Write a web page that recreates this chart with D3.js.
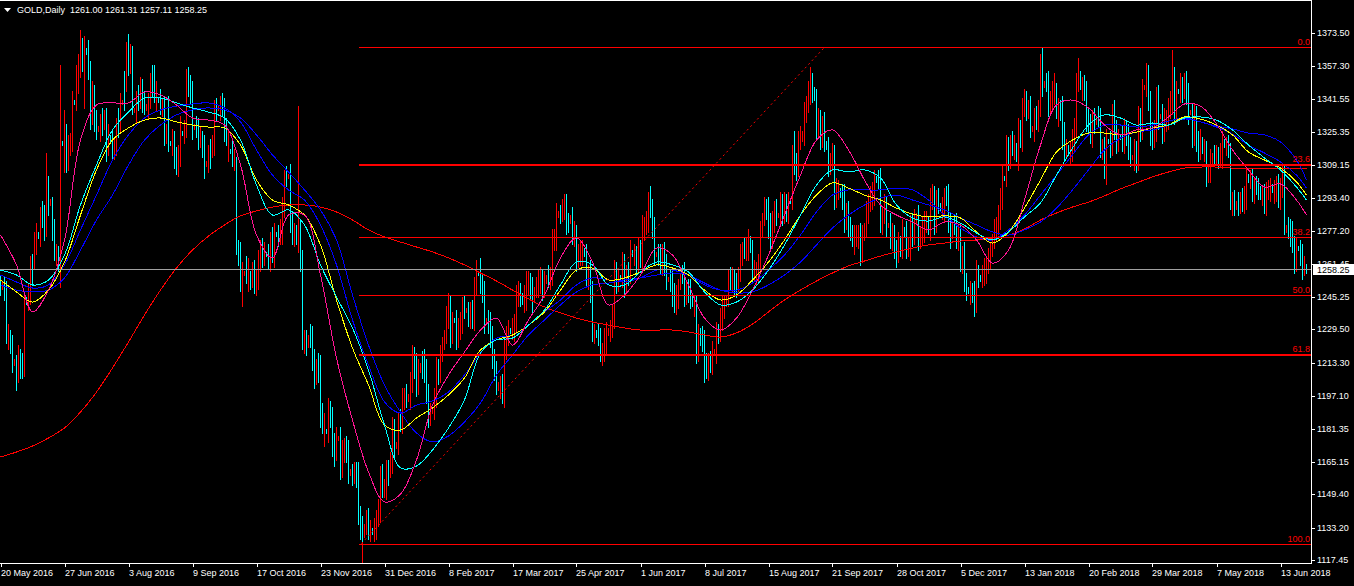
<!DOCTYPE html>
<html><head><meta charset="utf-8">
<script src="https://cdn.jsdelivr.net/npm/d3@7"></script>
<style>
html,body{margin:0;padding:0;background:#000;overflow:hidden;}
svg{display:block;}
text{font-family:"Liberation Sans",Arial,sans-serif;font-size:9px;}
</style></head><body>
<svg id="c" width="1354" height="586"></svg>
<script>
const symbolTitle = "GOLD,Daily  1261.00 1261.31 1257.11 1258.25";
const lastPrice = 1258.25;
const closes = [
1252,1250,1250,1228,1224,1221,1214,1213,1208,1215,1212,1210,1243,1244,1246,1257,1262,1270,1275,1276,1284,1285,1279,1298,1292,1291,1278,1267,1264,1263,1320,1320,
1324,1312,1318,1321,1340,1340,1350,1357,1366,1362,1365,1364,1356,1333,1343,1332,1327,1327,1328,1332,1332,1318,1323,1322,1317,1318,1326,1332,1340,1340,1350,1367,
1358,1363,1336,1336,1340,1342,1347,1340,1338,1337,1340,1348,1353,1346,1341,1341,1338,1338,1325,1325,1320,1320,1322,1313,1309,1313,1325,1325,1327,1351,1348,1345,
1328,1328,1328,1323,1322,1318,1310,1310,1314,1318,1318,1336,1337,1337,1339,1338,1327,1323,1316,1316,1313,1312,1268,1266,1254,1257,1257,1259,1254,1254,1257,1252,
1254,1262,1269,1266,1266,1266,1263,1273,1266,1276,1276,1275,1277,1289,1303,1304,1304,1282,1277,1275,1275,1273,1266,1225,1224,1222,1226,1226,1216,1208,1210,1212,
1188,1184,1180,1180,1190,1188,1173,1170,1177,1177,1163,1170,1173,1171,1161,1160,1159,1160,1158,1140,1134,1130,1134,1138,1133,1132,1131,1133,1138,1141,1158,1152,
1152,1160,1162,1165,1181,1173,1174,1184,1185,1196,1197,1196,1197,1204,1216,1212,1202,1210,1212,1215,1209,1198,1188,1190,1191,1196,1210,1209,1218,1221,1228,1235,
1241,1227,1234,1234,1226,1229,1233,1241,1239,1239,1236,1238,1234,1250,1257,1257,1252,1249,1233,1234,1234,1226,1216,1209,1203,1201,1203,1198,1220,1226,1229,1229,
1230,1233,1245,1248,1246,1243,1245,1250,1253,1249,1244,1249,1250,1253,1255,1249,1253,1255,1255,1255,1273,1274,1285,1286,1286,1288,1290,1282,1282,1284,1275,1276,
1264,1266,1267,1268,1266,1255,1257,1248,1228,1228,1227,1226,1217,1218,1224,1228,1229,1230,1236,1258,1252,1254,1255,1261,1251,1257,1256,1267,1266,1266,1262,1268,
1264,1279,1280,1282,1293,1288,1280,1266,1266,1265,1262,1267,1260,1254,1254,1254,1246,1242,1246,1250,1256,1256,1246,1249,1249,1245,1242,1241,1219,1226,1226,1224,
1212,1211,1214,1213,1218,1219,1228,1228,1234,1241,1242,1245,1254,1254,1255,1251,1249,1259,1266,1268,1268,1269,1274,1268,1257,1257,1258,1261,1276,1285,1289,1289,
1280,1273,1283,1287,1285,1285,1291,1286,1290,1286,1292,1292,1313,1310,1308,1322,1322,1325,1335,1339,1344,1349,1346,1342,1327,1331,1323,1329,1320,1318,1310,1311,
1315,1294,1297,1297,1295,1294,1282,1287,1280,1279,1271,1274,1275,1276,1266,1274,1280,1287,1291,1293,1296,1303,1302,1302,1282,1285,1290,1280,1280,1274,1276,1268,
1266,1271,1270,1278,1276,1269,1269,1281,1275,1282,1285,1274,1275,1278,1282,1283,1277,1293,1294,1282,1293,1290,1288,1288,1294,1294,1282,1275,1280,1280,1274,1275,
1263,1266,1252,1249,1248,1248,1248,1242,1257,1255,1254,1256,1258,1261,1264,1266,1275,1278,1280,1284,1293,1303,1303,1318,1313,1320,1318,1319,1312,1326,1322,1338,
1340,1337,1337,1327,1327,1332,1332,1337,1358,1348,1349,1349,1339,1341,1345,1348,1333,1337,1337,1325,1317,1318,1315,1315,1322,1328,1349,1354,1347,1347,1346,1331,
1329,1324,1332,1330,1332,1332,1318,1318,1305,1321,1321,1319,1335,1326,1321,1323,1323,1320,1326,1325,1317,1313,1313,1317,1311,1332,1327,1347,1347,1353,1341,1325,
1323,1325,1343,1333,1333,1325,1332,1332,1336,1340,1353,1334,1345,1345,1348,1346,1349,1344,1335,1335,1323,1333,1322,1316,1322,1316,1316,1305,1306,1311,1314,1314,
1314,1313,1314,1321,1319,1319,1317,1290,1291,1289,1291,1291,1292,1291,1294,1304,1302,1302,1297,1299,1299,1298,1294,1294,1291,1297,1297,1299,1297,1297,1300,1293,
1298,1302,1278,1279,1279,1276,1271,1262,1269,1269,1266,1260,1261,1258.25];
const upWick = [
4,1,5,3,4,5,6,1,4,7,5,6,5,1,6,8,4,7,6,1,5,7,5,17,6,1,3,5,4,6,38,1,
12,5,6,4,5,1,8,6,9,5,7,1,6,4,7,5,4,1,6,5,4,5,6,1,4,5,6,5,4,1,5,2,
6,5,4,1,5,6,5,4,5,1,4,6,5,5,4,1,5,4,5,4,18,1,5,4,5,6,8,1,4,5,6,5,
5,1,5,4,5,4,6,1,5,4,6,5,5,1,4,5,4,5,4,1,5,4,1,5,6,5,1,6,5,4,5,6,
5,6,4,5,6,1,5,4,6,5,1,4,6,5,4,5,1,6,5,4,5,63,10,2,4,5,1,6,5,4,5,6,
5,6,5,1,6,5,4,6,5,1,5,6,4,5,5,1,4,5,5,7,4,5,1,4,5,4,1,5,4,6,5,6,
5,6,4,5,6,5,1,5,6,5,4,6,1,5,6,5,6,5,1,4,5,6,5,4,1,5,6,5,4,5,1,6,
6,5,4,1,5,6,5,4,5,1,4,5,6,5,6,1,7,5,4,1,5,4,5,4,5,1,4,5,6,5,5,1,
5,4,6,5,4,1,6,8,5,4,6,1,5,6,5,4,5,1,6,5,5,4,6,1,4,5,5,5,4,1,5,6,
4,5,6,5,1,5,4,6,5,4,1,5,4,5,6,5,1,4,6,5,4,5,1,6,5,4,5,6,1,5,4,6,
5,6,4,5,3,6,5,4,1,5,6,4,5,6,1,5,4,6,5,4,1,5,6,4,5,5,1,4,5,6,4,5,
5,6,4,5,6,1,5,4,6,5,4,1,5,6,5,4,6,1,5,4,6,5,4,1,5,6,4,5,6,1,5,4,
5,6,4,5,6,1,5,4,6,5,4,1,6,13,5,4,6,1,5,4,6,8,5,1,4,6,5,4,6,1,5,4,
5,4,6,5,1,5,6,4,5,4,1,6,5,4,5,6,1,5,4,6,5,4,1,5,6,4,5,4,1,6,5,4,
5,6,4,5,1,6,5,4,5,6,1,5,4,6,5,4,1,5,6,5,4,5,1,6,4,5,6,4,1,5,6,5,
5,4,6,5,1,5,4,5,6,4,1,5,6,4,5,6,1,5,4,6,5,7,1,6,5,4,6,5,1,6,5,4,
6,5,4,6,1,5,6,4,5,8,1,5,6,4,5,6,1,5,4,6,5,4,1,6,5,4,5,7,1,5,6,4,
6,5,4,5,1,6,5,4,5,6,1,5,4,6,5,4,1,5,6,5,4,6,1,5,4,6,5,4,1,6,5,4,
5,6,4,5,1,6,5,4,6,5,12,4,5,1,6,4,5,6,5,1,4,6,5,4,5,1,6,5,4,6,1,5,
5,4,6,5,1,4,5,3,5,6,1,5,4,6,5,4,1,5,6,4,5,4,1,5,6,4,5,4,1,5,4,5,
5,7,7,1,5,4,6,4,5,1,4,5,4,0.31];
const downWick = [
6,1,6,5,4,3,5,1,8,4,6,4,3,1,5,4,6,3,4,1,6,5,6,4,7,1,5,4,3,5,13,1,
14,6,5,4,5,1,4,6,5,7,25,1,5,6,4,6,5,1,6,4,5,7,4,1,5,5,4,3,6,1,4,5,
5,4,2,1,6,4,5,5,4,1,5,3,5,6,5,1,4,5,6,5,4,1,6,5,4,5,4,1,5,4,5,6,
6,1,5,6,4,5,7,1,4,6,5,4,5,1,6,5,6,4,5,1,4,5,2,5,6,13,1,5,6,5,4,5,
6,5,4,6,5,1,4,5,4,6,1,5,4,6,5,4,1,5,6,5,4,6,8,5,6,5,1,5,6,7,5,6,
6,5,7,1,5,6,5,7,4,1,6,5,5,6,6,1,5,4,5,5,6,6,1,4,5,5,1,4,5,4,5,4,
4,5,6,4,5,6,1,5,4,6,5,4,1,6,5,6,5,4,1,6,5,4,6,5,1,5,4,6,5,4,1,5,
5,6,4,1,6,5,4,5,4,1,5,6,4,5,4,1,5,6,5,1,6,5,5,4,5,1,5,4,6,5,4,1,
4,6,5,4,5,1,5,6,4,5,6,1,4,5,6,5,4,1,5,6,4,5,6,1,5,4,5,6,5,1,4,5,
6,4,5,6,1,5,6,5,4,5,1,4,3,5,4,6,1,5,4,6,5,4,1,5,6,4,5,4,1,5,6,5,
4,5,6,4,5,4,6,5,1,4,5,6,4,5,1,6,5,4,5,6,1,4,5,4,6,5,1,5,6,5,4,5,
8,5,6,4,5,1,6,5,4,5,6,1,4,5,6,5,4,1,6,5,4,5,6,1,5,4,6,5,4,1,5,6,
6,5,4,6,5,1,4,6,5,4,5,1,4,5,6,4,5,1,6,5,4,5,6,1,5,4,6,5,4,1,6,5,
4,6,5,4,1,6,5,4,5,6,1,5,4,6,5,4,1,5,6,4,5,6,1,4,5,6,4,5,1,5,6,4,
6,4,5,6,1,5,4,6,5,4,1,6,5,4,6,5,1,4,5,6,5,4,1,5,6,4,5,6,1,4,5,6,
5,6,4,5,1,6,5,6,4,5,1,4,5,6,4,5,1,6,5,4,6,5,1,4,6,5,4,6,1,5,4,6,
5,6,5,4,1,6,5,6,4,5,1,4,6,5,4,6,1,5,6,8,5,4,1,5,4,6,5,4,1,6,5,5,
5,4,6,5,1,4,5,6,2,5,1,6,5,4,6,5,1,4,5,6,5,4,1,6,5,4,6,5,1,4,5,6,
6,5,4,6,1,5,4,6,5,4,6,5,4,1,5,6,4,5,6,1,5,4,6,5,4,1,5,6,4,5,1,4,
4,5,4,6,1,5,4,2,5,4,1,6,5,4,5,6,1,4,5,6,4,5,1,4,5,6,4,5,1,6,5,4,
5,4,2,1,5,6,4,5,4,1,5,6,4,1.14];
// 1 = bullish bar (drawn red), 0 = bearish bar (drawn cyan)
const bullish = [
0,1,0,0,1,0,0,1,0,1,0,0,1,0,1,1,0,1,1,0,1,0,0,1,0,1,0,0,1,0,1,0,
1,0,1,1,1,0,1,1,1,0,1,0,0,0,1,0,0,1,1,0,1,0,1,0,0,1,1,0,1,1,0,1,
0,1,0,1,1,0,1,0,0,1,1,1,0,0,1,0,0,1,0,1,0,0,1,0,0,1,1,0,1,1,0,0,
0,1,0,0,1,0,0,1,1,0,1,1,0,1,1,0,0,0,1,0,0,1,0,0,0,1,1,0,1,0,1,0,
1,1,1,0,1,0,0,1,0,1,0,0,1,1,1,0,1,0,0,1,0,1,0,0,1,0,1,0,0,0,1,0,
0,0,1,0,1,0,0,0,1,1,0,1,1,0,0,1,0,1,0,0,0,0,1,1,0,1,0,1,1,1,1,0,
1,1,0,1,1,0,1,1,0,1,1,0,1,1,1,0,0,1,1,0,0,0,0,1,1,1,1,0,1,1,1,1,
1,0,1,0,0,1,1,1,0,1,0,1,0,1,1,0,0,0,0,1,0,0,0,0,0,1,1,0,1,1,1,0,
1,1,1,1,0,0,1,1,1,0,0,1,1,1,1,0,1,1,0,1,1,1,1,1,0,1,1,0,0,1,0,1,
0,1,1,1,0,0,1,0,0,1,0,0,0,1,1,1,1,1,1,1,0,1,0,1,0,1,0,1,0,1,0,1,
0,1,1,1,1,0,0,0,1,0,0,1,0,0,1,0,0,0,1,1,1,0,0,1,0,0,0,1,0,1,0,0,
0,0,1,0,1,1,1,0,1,1,1,1,1,0,1,0,0,1,1,1,0,1,1,0,0,1,1,1,1,1,1,0,
0,0,1,1,0,1,1,0,1,0,1,0,1,0,0,1,1,1,1,1,1,1,0,0,0,1,0,1,0,0,0,1,
1,0,1,1,0,0,0,1,0,0,0,1,1,1,0,1,1,1,1,1,1,1,0,0,0,1,1,0,1,0,1,0,
0,1,0,1,0,0,1,1,0,1,1,0,1,1,1,1,0,1,1,0,1,0,0,1,1,0,0,0,1,0,0,1,
0,1,0,0,0,1,0,0,1,0,0,1,1,1,1,1,1,1,1,1,1,1,0,1,0,1,0,1,0,1,0,1,
1,0,1,0,1,1,0,1,1,0,1,0,0,1,1,1,0,1,0,0,0,1,0,1,1,1,1,1,0,1,0,0,
0,0,1,0,1,0,0,1,0,1,0,0,1,0,0,1,0,0,1,0,0,0,1,1,0,1,0,1,1,1,0,0,
0,1,1,0,1,0,1,1,1,1,1,0,1,0,1,0,1,0,0,1,0,1,0,0,1,0,1,0,1,1,1,0,
1,0,1,1,0,1,0,0,1,0,1,0,1,0,1,1,0,1,0,1,0,0,0,1,0,1,1,1,0,1,1,0,
1,1,0,1,0,0,0,0,1,0,0,0,1,0];

// moving averages, sampled every 8 bars (last sample = last bar)
const maPink = [1275.3,1260.8,1238.0,1248.6,1272.9,1321.4,1338.4,1339.4,1339.4,1344.7,
1343.3,1338.4,1332.1,1331.1,1328.7,1309.3,1275.3,1264.2,1285.0,1285.0,
1255.9,1215.6,1185.5,1160.3,1145.8,1149.6,1166.1,1192.8,1207.4,1218.5,
1229.2,1235.0,1221.9,1234.1,1246.2,1264.2,1273.9,1262.2,1241.4,1246.2,
1255.9,1269.0,1265.6,1251.1,1235.0,1229.2,1235.0,1248.6,1265.6,1285.0,
1304.4,1321.4,1326.3,1316.6,1302.0,1289.9,1285.0,1281.6,1277.8,1281.6,
1280.2,1272.9,1261.7,1268.0,1292.3,1319.0,1338.4,1340.8,1337.0,1328.7,
1323.9,1326.3,1327.3,1332.6,1338.9,1337.9,1329.2,1316.6,1306.9,1298.6,
1300.1,1292.3,1285.0];
const maCyan = [1258.3,1255.9,1251.1,1253.5,1265.6,1289.9,1309.3,1326.3,1335.0,1341.8,
1341.8,1339.4,1337.0,1335.0,1332.1,1321.4,1299.6,1285.0,1287.5,1280.2,
1260.8,1245.2,1230.2,1209.8,1183.1,1162.3,1163.2,1171.0,1181.7,1195.3,
1218.1,1224.4,1225.3,1231.6,1238.9,1251.1,1262.2,1260.8,1251.1,1251.1,
1257.4,1262.2,1260.8,1257.4,1247.7,1241.4,1242.8,1248.6,1258.3,1270.5,
1285.0,1299.6,1306.9,1305.9,1306.9,1303.0,1289.9,1283.6,1282.1,1284.1,
1281.1,1276.3,1272.9,1276.8,1284.1,1290.9,1304.4,1317.5,1328.7,1333.6,
1332.1,1328.7,1329.7,1328.7,1332.1,1332.6,1331.1,1326.3,1319.0,1312.7,
1306.9,1298.6,1292.3];
const maYellow = [1253.5,1247.7,1242.8,1248.6,1262.2,1285.0,1306.9,1321.4,1327.3,1331.1,
1332.1,1330.2,1328.7,1327.7,1327.3,1319.0,1302.0,1292.3,1289.9,1285.0,
1270.5,1243.8,1220.5,1202.5,1183.1,1180.7,1186.5,1191.4,1197.7,1205.9,
1219.5,1224.4,1226.8,1231.6,1238.0,1248.6,1258.3,1259.3,1253.5,1254.5,
1257.4,1260.8,1259.3,1255.9,1248.6,1243.8,1246.2,1253.5,1262.2,1272.9,
1285.0,1294.7,1300.6,1298.1,1294.7,1292.3,1288.4,1285.5,1284.1,1284.6,
1283.6,1276.8,1271.4,1276.8,1288.4,1302.0,1315.6,1321.4,1324.8,1324.8,
1323.9,1325.3,1327.3,1328.7,1332.6,1331.6,1328.7,1323.9,1315.6,1311.7,
1307.8,1301.1,1294.7];
const maBlueFast = [1255.9,1252.5,1249.6,1251.1,1260.8,1277.8,1294.7,1311.7,1323.9,1332.1,
1336.0,1337.9,1338.9,1339.4,1337.0,1330.2,1316.6,1304.4,1297.2,1292.3,
1280.2,1260.8,1234.1,1212.2,1194.3,1188.9,1192.8,1194.8,1199.1,1207.4,
1218.1,1225.3,1226.8,1231.6,1238.0,1243.8,1251.1,1254.5,1253.5,1252.5,
1254.5,1258.3,1258.3,1255.9,1251.1,1248.6,1248.6,1252.0,1258.3,1265.6,
1275.3,1286.5,1294.7,1297.2,1297.2,1297.2,1298.1,1297.2,1292.3,1285.0,
1278.7,1274.4,1272.9,1277.8,1285.0,1294.7,1304.4,1314.2,1323.9,1328.7,
1328.7,1327.7,1328.7,1330.6,1332.1,1330.2,1328.2,1326.8,1324.8,1323.9,
1320.5,1311.7,1302.0];
const maBlueSlow = [1251.1,1248.6,1247.7,1248.6,1254.5,1268.0,1282.6,1294.7,1309.3,1321.4,
1328.7,1333.6,1336.0,1337.0,1336.0,1332.1,1323.9,1314.2,1305.9,1297.2,
1287.5,1272.9,1246.2,1221.9,1202.5,1189.4,1179.2,1174.9,1177.8,1184.6,
1193.8,1207.4,1217.1,1226.8,1234.1,1241.4,1247.7,1251.1,1252.0,1253.5,
1254.5,1255.9,1256.9,1255.9,1252.0,1248.6,1247.2,1247.7,1251.1,1255.9,
1262.2,1270.5,1278.7,1285.0,1289.9,1293.3,1294.7,1292.3,1289.9,1287.5,
1283.6,1280.2,1276.8,1275.3,1277.8,1281.6,1288.4,1297.2,1306.9,1316.6,
1322.4,1325.3,1326.3,1328.7,1331.6,1330.2,1327.7,1324.3,1319.0,1315.1,
1310.8,1304.4,1298.1];
const maRed = [1167.6,1170.0,1172.9,1176.8,1181.7,1189.4,1199.1,1210.8,1223.4,1236.5,
1248.6,1259.3,1268.0,1274.8,1280.2,1284.6,1287.0,1288.9,1289.9,1289.9,
1288.9,1286.5,1282.6,1277.8,1274.4,1271.9,1269.5,1267.1,1264.2,1260.8,
1256.9,1253.0,1248.6,1244.3,1240.4,1237.5,1235.0,1233.1,1231.6,1230.2,
1229.2,1229.2,1229.2,1228.3,1226.8,1225.8,1227.8,1232.1,1238.0,1243.8,
1248.6,1253.0,1256.9,1260.3,1262.7,1265.1,1267.1,1269.0,1270.5,1271.4,
1272.4,1272.9,1273.9,1275.3,1278.2,1282.6,1286.0,1288.9,1291.3,1294.3,
1297.7,1300.6,1303.5,1305.9,1307.8,1308.3,1308.3,1307.8,1307.8,1307.8,
1307.8,1307.8,1307.8];

const priceTicks = [1373.50,1357.30,1341.55,1325.35,1309.15,1293.40,1277.20,1261.45,1245.25,1229.50,1213.30,1197.10,1181.35,1165.15,1149.40,1133.20,1117.45];
const dateLabels = ["20 May 2016","27 Jun 2016","3 Aug 2016","9 Sep 2016","17 Oct 2016","23 Nov 2016","31 Dec 2016","8 Feb 2017","17 Mar 2017","25 Apr 2017","1 Jun 2017","8 Jul 2017","15 Aug 2017","21 Sep 2017","28 Oct 2017","5 Dec 2017","13 Jan 2018","20 Feb 2018","29 Mar 2018","7 May 2018","13 Jun 2018"];
const dateBars = d3.range(0, 641, 32);

const fibHigh = 1366.4, fibLow = 1125.6;
const fibLevels = [0, 23.6, 38.2, 50.0, 61.8, 100.0];
const fibBold = [23.6, 61.8];
const fibStartBar = 179.3, trendStartBar = 180.5, trendEndBar = 412;

// ---------- drawing ----------
const W = 1354, H = 586, plotR = 1311, plotB = 563;
const nBars = closes.length;
const svg = d3.select("#c");
svg.append("rect").attr("width", W).attr("height", H).attr("fill", "#000");

const x = d3.scaleLinear().domain([0, nBars - 1]).range([0.5, 2 * (nBars - 1) + 0.5]);
const y = d3.scaleLinear().domain([1115.9, 1389.37]).range([563.5, 0]);
const py = v => Math.round(y(v)) + 0.5;

svg.append("defs").append("clipPath").attr("id", "clip")
  .append("rect").attr("x", 0).attr("y", 1).attr("width", plotR).attr("height", plotB - 1);
const plot = svg.append("g").attr("clip-path", "url(#clip)");

const bars = closes.map((c, i) => {
  const o = i ? closes[i - 1] : c;
  return { i, up: bullish[i] === 1, h: Math.max(o, c) + upWick[i], l: Math.min(o, c) - downWick[i] };
});
plot.append("g").attr("shape-rendering", "crispEdges").selectAll("rect").data(bars).join("rect")
  .attr("x", d => Math.round(x(d.i) - 0.5))
  .attr("width", 1)
  .attr("y", d => Math.round(y(d.h)))
  .attr("height", d => Math.max(1, Math.round(y(d.l)) - Math.round(y(d.h)) + 1))
  .attr("fill", d => d.up ? "#ff0000" : "#00ffff");

const maBars = d3.range(0, nBars - 5, 8).concat([nBars - 1]);
const line = d3.line().x(d => x(d[0])).y(d => y(d[1])).curve(d3.curveCatmullRom.alpha(0.5));
const mas = [
  [maRed, "#ff0000"], [maBlueSlow, "#0000ff"], [maBlueFast, "#0000ff"],
  [maYellow, "#ffff00"], [maCyan, "#00ffff"], [maPink, "#ff1493"]
];
mas.forEach(([arr, col]) => {
  const pts = arr.map((v, k) => [maBars[k], v]).filter(p => p[0] !== undefined);
  plot.append("path").attr("d", line(pts)).attr("fill", "none")
    .attr("stroke", col).attr("stroke-width", 1).attr("shape-rendering", "crispEdges");
});

// current price line
plot.append("line").attr("x1", 0).attr("x2", plotR).attr("y1", py(lastPrice) - 1).attr("y2", py(lastPrice) - 1)
  .attr("stroke", "#a0a0a0").attr("shape-rendering", "crispEdges");

// fibonacci
const fibPrice = r => fibHigh - (fibHigh - fibLow) * r / 100;
const fx0 = x(fibStartBar);
plot.append("g").selectAll("line").data(fibLevels).join("line")
  .attr("x1", fx0).attr("x2", plotR)
  .attr("y1", d => fibBold.includes(d) ? py(fibPrice(d)) + 0.5 : py(fibPrice(d)))
  .attr("y2", d => fibBold.includes(d) ? py(fibPrice(d)) + 0.5 : py(fibPrice(d)))
  .attr("stroke-width", d => fibBold.includes(d) ? 2 : 1)
  .attr("stroke", "#ff0000").attr("shape-rendering", "crispEdges");
plot.append("g").selectAll("text").data(fibLevels).join("text")
  .attr("x", plotR - 1).attr("y", d => py(fibPrice(d)) - 2.5).attr("text-anchor", "end")
  .attr("fill", "#ff0000").text(d => d.toFixed(1));
plot.append("line").attr("x1", x(trendStartBar)).attr("y1", y(fibLow))
  .attr("x2", x(trendEndBar)).attr("y2", y(fibHigh))
  .attr("stroke", "#ff0000").attr("stroke-dasharray", "2,3");
plot.append("line").attr("x1", Math.round(x(trendStartBar)) + 0.5).attr("x2", Math.round(x(trendStartBar)) + 0.5)
  .attr("y1", y(fibLow) - 2).attr("y2", plotB)
  .attr("stroke", "#ff0000").attr("shape-rendering", "crispEdges");

// frame
const frame = svg.append("g").attr("stroke", "#fff").attr("shape-rendering", "crispEdges");
frame.append("line").attr("x1", 0).attr("x2", plotR + 1).attr("y1", 0.5).attr("y2", 0.5);
frame.append("line").attr("x1", plotR + 0.5).attr("x2", plotR + 0.5).attr("y1", 0).attr("y2", plotB + 1);
frame.append("line").attr("x1", 0).attr("x2", plotR + 1).attr("y1", plotB + 0.5).attr("y2", plotB + 0.5);

// price axis
const pa = svg.append("g");
priceTicks.forEach(v => {
  const ty = py(v);
  pa.append("line").attr("x1", plotR).attr("x2", plotR + 4).attr("y1", ty).attr("y2", ty)
    .attr("stroke", "#fff").attr("shape-rendering", "crispEdges");
  pa.append("text").attr("x", plotR + 6).attr("y", ty - 0.5).attr("dy", "0.35em").attr("fill", "#fff").text(v.toFixed(2));
});
const lp = py(lastPrice) - 1;
pa.append("rect").attr("x", plotR + 2).attr("y", lp - 5.5).attr("width", W - plotR - 2).attr("height", 11).attr("fill", "#fff");
pa.append("text").attr("x", plotR + 6).attr("y", lp).attr("dy", "0.35em").attr("fill", "#000").text(lastPrice.toFixed(2));

// date axis
const da = svg.append("g");
dateBars.forEach((b, k) => {
  const tx = Math.round(x(b)) + 0.5;
  da.append("line").attr("x1", tx).attr("x2", tx).attr("y1", plotB).attr("y2", plotB + 4)
    .attr("stroke", "#fff").attr("shape-rendering", "crispEdges");
  da.append("text").attr("x", tx - 0.5).attr("y", 576).attr("fill", "#fff").text(dateLabels[k]);
});

// title
svg.append("path").attr("d", "M4,8 L11,8 L7.5,12 Z").attr("fill", "#fff");
svg.append("text").attr("x", 17).attr("y", 13).attr("fill", "#fff").attr("xml:space", "preserve")
  .style("white-space", "pre").text(symbolTitle);
</script>
</body></html>
